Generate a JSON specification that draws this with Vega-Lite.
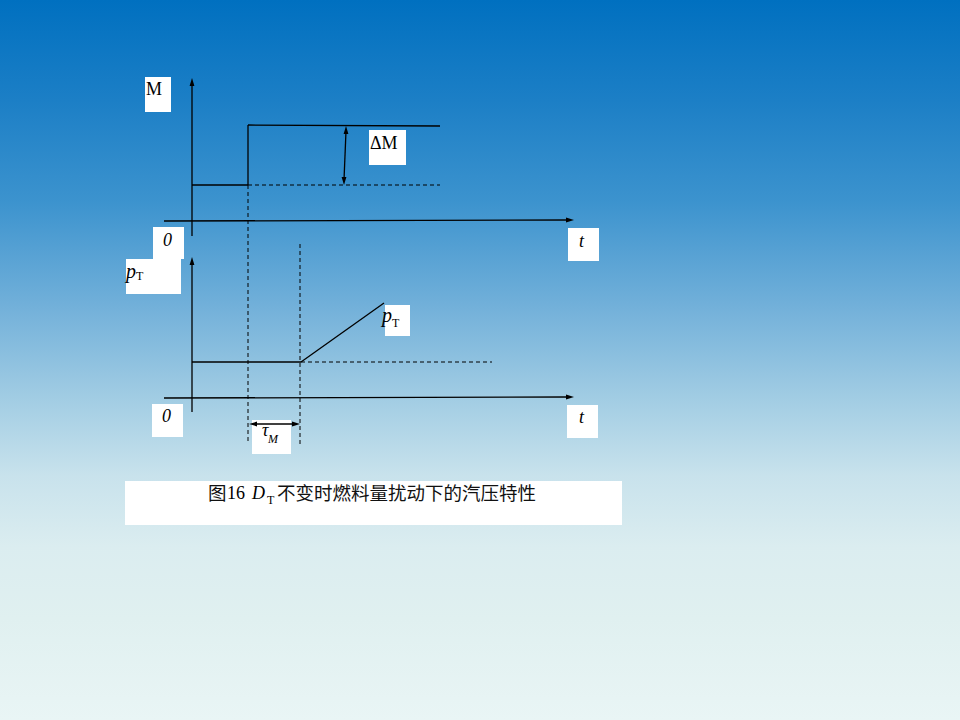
{
  "$schema": "https://vega.github.io/schema/vega-lite/v6.json",
  "width": 960,
  "height": 720,
  "padding": 0,
  "autosize": {"type": "fit", "contains": "padding"},
  "background": "#e8f5f5",
  "config": {"view": {"stroke": null}},
  "datasets": {
    "bg": [{"x": 0, "x2": 960, "y": 0, "y2": 720}],
    "boxes": [
      {"x": 145, "x2": 171, "y": 77, "y2": 112},
      {"x": 369, "x2": 406, "y": 130, "y2": 165},
      {"x": 153, "x2": 184, "y": 227, "y2": 259},
      {"x": 568, "x2": 599, "y": 228, "y2": 261},
      {"x": 126, "x2": 181, "y": 259, "y2": 294},
      {"x": 385, "x2": 410, "y": 305, "y2": 336},
      {"x": 152, "x2": 183, "y": 404, "y2": 437},
      {"x": 567, "x2": 598, "y": 405, "y2": 438},
      {"x": 252, "x2": 291, "y": 420, "y2": 454},
      {"x": 125, "x2": 622, "y": 481, "y2": 525}
    ],
    "solid": [
      {"x": 192, "y": 236, "x2": 192, "y2": 82},
      {"x": 164, "y": 221, "x2": 568, "y2": 220},
      {"x": 192, "y": 185, "x2": 248, "y2": 185},
      {"x": 248, "y": 185, "x2": 248, "y2": 125},
      {"x": 248, "y": 125, "x2": 440, "y2": 126},
      {"x": 346, "y": 131, "x2": 344, "y2": 180},
      {"x": 192, "y": 412, "x2": 192, "y2": 262},
      {"x": 164, "y": 398, "x2": 568, "y2": 397},
      {"x": 192, "y": 362, "x2": 301, "y2": 362},
      {"x": 301, "y": 362, "x2": 384, "y2": 303},
      {"x": 254, "y": 424, "x2": 295, "y2": 424}
    ],
    "dashed": [
      {"x": 248, "y": 185, "x2": 440, "y2": 185},
      {"x": 248, "y": 185, "x2": 248, "y2": 443},
      {"x": 300, "y": 244, "x2": 300, "y2": 444},
      {"x": 301, "y": 362, "x2": 492, "y2": 362}
    ],
    "heads": [
      {"x": 192, "y": 78, "dir": "up"},
      {"x": 574, "y": 220, "dir": "right"},
      {"x": 346, "y": 126, "dir": "up"},
      {"x": 344, "y": 185, "dir": "down"},
      {"x": 192, "y": 257, "dir": "up"},
      {"x": 574, "y": 397, "dir": "right"},
      {"x": 249, "y": 424, "dir": "left"},
      {"x": 300, "y": 424, "dir": "right"}
    ],
    "texts": [
      {"x": 146, "y": 95, "t": "M", "role": "label"},
      {"x": 370, "y": 149, "t": "ΔM", "role": "label"},
      {"x": 227, "y": 499, "t": "16", "role": "label"},
      {"x": 163, "y": 246, "t": "0", "role": "var"},
      {"x": 579, "y": 247, "t": "t", "role": "var"},
      {"x": 162, "y": 422, "t": "0", "role": "var"},
      {"x": 579, "y": 423, "t": "t", "role": "var"},
      {"x": 126, "y": 278, "t": "p", "role": "pvar"},
      {"x": 382, "y": 322, "t": "p", "role": "pvar"},
      {"x": 262, "y": 436, "t": "τ", "role": "var"},
      {"x": 252, "y": 499, "t": "D", "role": "var"},
      {"x": 136, "y": 280, "t": "T", "role": "sub"},
      {"x": 392, "y": 327, "t": "T", "role": "sub"},
      {"x": 267, "y": 504, "t": "T", "role": "sub"},
      {"x": 268, "y": 443, "t": "M", "role": "subvar"},
      {"x": 208, "y": 500, "t": "图", "role": "cjk"},
      {"x": 277, "y": 500, "t": "不变时燃料量扰动下的汽压特性", "role": "cjk"}
    ]
  },
  "layer": [
    {
      "data": {"name": "bg"},
      "mark": {
        "type": "rect",
        "fill": {
          "gradient": "linear",
          "x1": 0, "y1": 0, "x2": 0, "y2": 1,
          "stops": [
            {"offset": 0, "color": "#0070c0"},
            {"offset": 0.14, "color": "#1c7fc6"},
            {"offset": 0.28, "color": "#3c93ce"},
            {"offset": 0.42, "color": "#70afd9"},
            {"offset": 0.56, "color": "#a4cee4"},
            {"offset": 0.66, "color": "#c8e2ec"},
            {"offset": 0.76, "color": "#dbedf0"},
            {"offset": 0.86, "color": "#e0f0f0"},
            {"offset": 1, "color": "#e9f5f5"}
          ]
        }
      },
      "encoding": {
        "x": {"field": "x", "type": "quantitative", "scale": {"domain": [0, 960], "nice": false, "zero": false}, "axis": null},
        "x2": {"field": "x2"},
        "y": {"field": "y", "type": "quantitative", "scale": {"domain": [0, 720], "nice": false, "zero": false, "reverse": true}, "axis": null},
        "y2": {"field": "y2"}
      }
    },
    {
      "data": {"name": "boxes"},
      "mark": {"type": "rect", "fill": "#ffffff"},
      "encoding": {
        "x": {"field": "x", "type": "quantitative"},
        "x2": {"field": "x2"},
        "y": {"field": "y", "type": "quantitative"},
        "y2": {"field": "y2"}
      }
    },
    {
      "data": {"name": "solid"},
      "mark": {"type": "rule", "color": "#000000", "strokeWidth": 1.3},
      "encoding": {
        "x": {"field": "x", "type": "quantitative"},
        "x2": {"field": "x2"},
        "y": {"field": "y", "type": "quantitative"},
        "y2": {"field": "y2"}
      }
    },
    {
      "data": {"name": "dashed"},
      "mark": {"type": "rule", "color": "#000000", "strokeWidth": 1, "strokeDash": [4, 3]},
      "encoding": {
        "x": {"field": "x", "type": "quantitative"},
        "x2": {"field": "x2"},
        "y": {"field": "y", "type": "quantitative"},
        "y2": {"field": "y2"}
      }
    },
    {
      "data": {"name": "heads"},
      "mark": {"type": "point", "filled": true, "color": "#000000", "size": 64, "opacity": 1, "strokeWidth": 0},
      "encoding": {
        "x": {"field": "x", "type": "quantitative"},
        "y": {"field": "y", "type": "quantitative"},
        "shape": {
          "field": "dir", "type": "nominal", "legend": null,
          "scale": {
            "domain": ["up", "down", "left", "right"],
            "range": ["M0,0L-0.6,2L0.6,2Z", "M0,0L-0.6,-2L0.6,-2Z", "M0,0L2,-0.6L2,0.6Z", "M0,0L-2,-0.6L-2,0.6Z"]
          }
        }
      }
    },
    {
      "data": {"name": "texts"},
      "transform": [{"filter": "datum.role === 'label'"}],
      "mark": {"type": "text", "font": "Liberation Serif", "fontSize": 18, "align": "left", "baseline": "alphabetic", "color": "#000000"},
      "encoding": {
        "x": {"field": "x", "type": "quantitative"},
        "y": {"field": "y", "type": "quantitative"},
        "text": {"field": "t"}
      }
    },
    {
      "data": {"name": "texts"},
      "transform": [{"filter": "datum.role === 'var'"}],
      "mark": {"type": "text", "font": "Liberation Serif", "fontStyle": "italic", "fontSize": 18, "align": "left", "baseline": "alphabetic", "color": "#000000"},
      "encoding": {
        "x": {"field": "x", "type": "quantitative"},
        "y": {"field": "y", "type": "quantitative"},
        "text": {"field": "t"}
      }
    },
    {
      "data": {"name": "texts"},
      "transform": [{"filter": "datum.role === 'pvar'"}],
      "mark": {"type": "text", "font": "Liberation Serif", "fontStyle": "italic", "fontSize": 20, "align": "left", "baseline": "alphabetic", "color": "#000000"},
      "encoding": {
        "x": {"field": "x", "type": "quantitative"},
        "y": {"field": "y", "type": "quantitative"},
        "text": {"field": "t"}
      }
    },
    {
      "data": {"name": "texts"},
      "transform": [{"filter": "datum.role === 'sub'"}],
      "mark": {"type": "text", "font": "Liberation Serif", "fontSize": 12, "align": "left", "baseline": "alphabetic", "color": "#000000"},
      "encoding": {
        "x": {"field": "x", "type": "quantitative"},
        "y": {"field": "y", "type": "quantitative"},
        "text": {"field": "t"}
      }
    },
    {
      "data": {"name": "texts"},
      "transform": [{"filter": "datum.role === 'subvar'"}],
      "mark": {"type": "text", "font": "Liberation Serif", "fontStyle": "italic", "fontSize": 12, "align": "left", "baseline": "alphabetic", "color": "#000000"},
      "encoding": {
        "x": {"field": "x", "type": "quantitative"},
        "y": {"field": "y", "type": "quantitative"},
        "text": {"field": "t"}
      }
    },
    {
      "data": {"name": "texts"},
      "transform": [{"filter": "datum.role === 'cjk'"}],
      "mark": {"type": "text", "font": "Noto Sans CJK SC", "fontSize": 18.5, "align": "left", "baseline": "alphabetic", "color": "#111111"},
      "encoding": {
        "x": {"field": "x", "type": "quantitative"},
        "y": {"field": "y", "type": "quantitative"},
        "text": {"field": "t"}
      }
    }
  ]
}
